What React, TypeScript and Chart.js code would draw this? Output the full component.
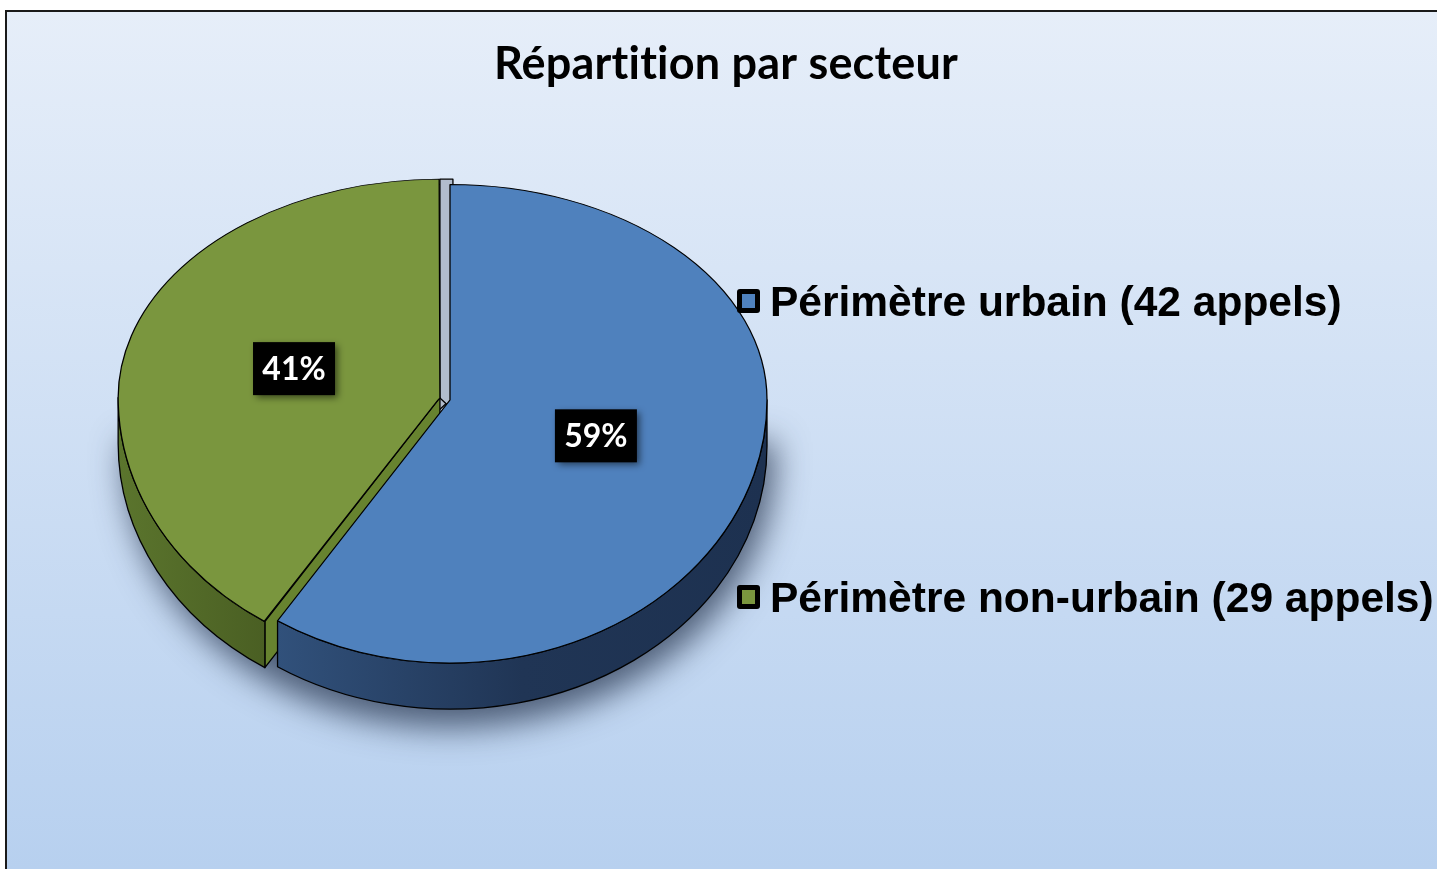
import React, { useEffect, useRef } from 'react';
import { Chart, registerables } from 'chart.js';

Chart.register(...registerables);

// ---- data ----
const TITLE = 'Répartition par secteur';
const CATEGORIES = ['Périmètre urbain', 'Périmètre non-urbain'];
const CALLS = [42, 29];
const UNIT = 'appels';
const TOP_COLORS = ['#4f81bd', '#7a963e'];
const WALL_COLORS = [
  ['#31517b', '#203555', '#1d3150'],
  ['#5b752d', '#4a5f23'],
];
const FACE_COLORS = ['#2a4468', '#67832f'];
const GAP_FACE_COLOR = '#b1bccd';
const EXPLODE = [0, 42];

// ---- geometry / style ----
const W = 1437;
const H = 869;
const K_UP = 0.68;
const K_DN = 0.83;
const DEPTH = 46;
const RADIUS = 317;

function pt(g: any, r: number, a: number) {
  const s = Math.sin(a);
  return {
    x: g.x + r * Math.cos(a),
    y: s < 0 ? g.yUp + r * s * K_UP : g.yDn + r * s * K_DN,
  };
}

function visibleIntervals(s: number, e: number) {
  const out: [number, number][] = [];
  for (let k = -2; k <= 2; k++) {
    const a = Math.max(s, k * 2 * Math.PI);
    const b = Math.min(e, k * 2 * Math.PI + Math.PI);
    if (b > a + 1e-6) out.push([a, b]);
  }
  return out;
}

const pie3d = {
  id: 'pie3d',
  beforeDraw(chart: any) {
    const ctx = chart.ctx;
    ctx.save();
    ctx.fillStyle = '#ffffff';
    ctx.fillRect(0, 0, W, H);
    const grad = ctx.createLinearGradient(0, 12, 0, H);
    grad.addColorStop(0, '#e6eef9');
    grad.addColorStop(1, '#b7d0ef');
    ctx.fillStyle = grad;
    ctx.fillRect(7, 12, W, H);
    ctx.strokeStyle = '#1a1a1a';
    ctx.lineWidth = 2;
    ctx.beginPath();
    ctx.moveTo(6, H + 2);
    ctx.lineTo(6, 11);
    ctx.lineTo(W + 2, 11);
    ctx.stroke();
    ctx.restore();
  },
  beforeDatasetsDraw(chart: any) {
    const ctx = chart.ctx;
    const meta = chart.getDatasetMeta(0);
    const arcs = meta.data as any[];
    if (!arcs.length) return;
    const cx = arcs[0].x;
    const cy = arcs[0].y;
    const geo = arcs.map((a: any, i: number) => {
      const o = (a.options.offset || 0) / 4;
      const half = (a.startAngle + a.endAngle) / 2;
      const tx = Math.cos(half) * o;
      const ty = Math.sin(half) * o;
      const fix = 1 - Math.sin(Math.min(Math.PI, a.circumference || 0));
      return {
        i,
        x: cx + tx,
        yUp: cy + ty * K_UP,
        yDn: cy + ty * K_DN,
        R: a.outerRadius + o * fix,
        r0: a.outerRadius,
        s: a.startAngle,
        e: a.endAngle,
        half,
      };
    });

    // soft shadow under the pie
    ctx.save();
    const sh = 4000;
    const R0 = geo[0].r0 + 8;
    ctx.shadowColor = 'rgba(40,55,80,0.75)';
    ctx.shadowBlur = 32;
    ctx.shadowOffsetX = sh;
    ctx.shadowOffsetY = 12;
    ctx.fillStyle = '#000';
    ctx.beginPath();
    ctx.moveTo(cx - R0 - sh, cy + 30);
    ctx.lineTo(cx + R0 - sh, cy + 30);
    ctx.lineTo(cx + R0 - sh, cy + DEPTH);
    ctx.ellipse(cx - sh, cy + DEPTH, R0, R0 * K_DN, 0, 0, Math.PI, false);
    ctx.closePath();
    ctx.fill();
    ctx.restore();

    ctx.lineWidth = 1.3;
    ctx.strokeStyle = '#000';
    ctx.lineJoin = 'round';

    // edge-on radial faces seen through the explode gap
    geo.forEach((g: any) => {
      [g.s, g.e].forEach((phi, idx) => {
        if (Math.abs(Math.cos(phi)) > 0.01) return;
        const dir = idx === 0 ? -1 : 1;
        const rim = pt(g, g.R, phi);
        const v = { x: g.x, y: g.yUp };
        ctx.beginPath();
        ctx.moveTo(rim.x, rim.y);
        ctx.lineTo(v.x, v.y);
        ctx.lineTo(v.x + dir * 13, v.y + 12);
        ctx.lineTo(rim.x + dir * 13, rim.y);
        ctx.closePath();
        ctx.fillStyle = GAP_FACE_COLOR;
        ctx.fill();
        ctx.stroke();
      });
    });

    // walls and cut faces, back to front
    const order = geo.slice().sort((a: any, b: any) => {
      const ma = visibleIntervals(a.s, a.e).map(([p, q]) => Math.sin((p + q) / 2))[0] ?? -1;
      const mb = visibleIntervals(b.s, b.e).map(([p, q]) => Math.sin((p + q) / 2))[0] ?? -1;
      return ma - mb;
    });
    order.forEach((g: any) => {
      const faces: number[] = [];
      if (Math.cos(g.s) < -0.01) faces.push(g.s);
      if (Math.cos(g.e) > 0.01) faces.push(g.e);
      faces.forEach((phi) => {
        const rim = pt(g, g.R, phi);
        const v = { x: g.x, y: g.yDn };
        ctx.beginPath();
        ctx.moveTo(v.x, v.y);
        ctx.lineTo(rim.x, rim.y);
        ctx.lineTo(rim.x, rim.y + DEPTH);
        ctx.lineTo(v.x, v.y + DEPTH);
        ctx.closePath();
        ctx.fillStyle = FACE_COLORS[g.i];
        ctx.fill();
        ctx.stroke();
      });
      visibleIntervals(g.s, g.e).forEach(([a0, a1]) => {
        const p0 = pt(g, g.R, a0);
        const p1 = pt(g, g.R, a1);
        const xl = Math.min(p0.x, p1.x);
        const xr = Math.max(p0.x, p1.x);
        const grad = ctx.createLinearGradient(xl, 0, xr, 0);
        const cols = WALL_COLORS[g.i];
        cols.forEach((c: string, k: number) => grad.addColorStop(k / (cols.length - 1), c));
        ctx.beginPath();
        ctx.ellipse(g.x, g.yDn, g.R, g.R * K_DN, 0, a0, a1, false);
        ctx.ellipse(g.x, g.yDn + DEPTH, g.R, g.R * K_DN, 0, a1, a0, true);
        ctx.closePath();
        ctx.fillStyle = grad;
        ctx.fill();
        ctx.stroke();
      });
    });

    // top surfaces (upper and lower halves with different foreshortening)
    const halves = [
      { y0: 0, y1: cy, k: K_UP },
      { y0: cy, y1: H, k: K_DN },
    ];
    halves.forEach((hf) => {
      ctx.save();
      ctx.beginPath();
      ctx.rect(0, hf.y0, W, hf.y1 - hf.y0);
      ctx.clip();
      ctx.translate(cx, cy);
      ctx.scale(1, hf.k);
      ctx.translate(-cx, -cy);
      arcs.forEach((a: any) => a.draw(ctx));
      ctx.restore();
    });

    // percentage labels
    const total = CALLS.reduce((s, v) => s + v, 0);
    geo.forEach((g: any) => {
      const p = pt(g, g.r0 * 0.48, g.half);
      const txt = Math.round((CALLS[g.i] / total) * 100) + '%';
      const bw = 82;
      const bh = 53;
      ctx.save();
      ctx.shadowColor = 'rgba(0,0,0,0.55)';
      ctx.shadowBlur = 7;
      ctx.shadowOffsetX = 3;
      ctx.shadowOffsetY = 3;
      ctx.fillStyle = '#000';
      ctx.fillRect(p.x - bw / 2, p.y - bh / 2, bw, bh);
      ctx.restore();
      ctx.save();
      ctx.fillStyle = '#ffffff';
      ctx.font = 'bold 32px Lato, "Open Sans", sans-serif';
      ctx.textAlign = 'center';
      ctx.textBaseline = 'alphabetic';
      ctx.fillText(txt, p.x, p.y + 11);
      ctx.restore();
    });
    return false;
  },
  afterDraw(chart: any) {
    const ctx = chart.ctx;
    ctx.save();
    ctx.fillStyle = '#000';
    ctx.font = 'bold 45px Lato, "Open Sans", sans-serif';
    ctx.textAlign = 'center';
    ctx.textBaseline = 'alphabetic';
    try {
      (ctx as any).letterSpacing = '0.2px';
    } catch (e) {
      /* ignore */
    }
    ctx.fillText(TITLE, 726, 79);
    try {
      (ctx as any).letterSpacing = '0px';
    } catch (e) {
      /* ignore */
    }

    const ys = [301, 597];
    ctx.font = 'bold 42.5px "Liberation Sans", Arial, sans-serif';
    ctx.textAlign = 'left';
    CATEGORIES.forEach((name, i) => {
      const y = ys[i];
      ctx.fillStyle = '#000';
      ctx.beginPath();
      (ctx as any).roundRect(737, y - 12, 23, 24, 3);
      ctx.fill();
      ctx.fillStyle = TOP_COLORS[i];
      ctx.fillRect(742, y - 7, 13, 14);
      ctx.fillStyle = '#000';
      ctx.fillText(`${name} (${CALLS[i]} ${UNIT})`, 770, y + 15);
    });
    ctx.restore();
  },
};

export default function App() {
  const ref = useRef<HTMLCanvasElement>(null);
  useEffect(() => {
    const chart = new Chart(ref.current as HTMLCanvasElement, {
      type: 'pie',
      data: {
        labels: CATEGORIES,
        datasets: [
          {
            data: CALLS,
            backgroundColor: TOP_COLORS,
            borderColor: '#000000',
            borderWidth: 1.3,
            offset: EXPLODE,
          },
        ],
      },
      options: {
        responsive: false,
        animation: false,
        devicePixelRatio: 1,
        radius: RADIUS,
        events: [],
        layout: { padding: { left: 100, right: W - 800, top: 100, bottom: H - 700 } },
        plugins: {
          legend: { display: false },
          title: { display: false },
          tooltip: { enabled: false },
        },
      } as any,
      plugins: [pie3d as any],
    });
    return () => chart.destroy();
  }, []);
  return (
    <div style={{ position: 'fixed', left: 0, top: 0, width: W, height: H }}>
      <canvas ref={ref} width={W} height={H} style={{ width: W, height: H, display: 'block' }} />
    </div>
  );
}
